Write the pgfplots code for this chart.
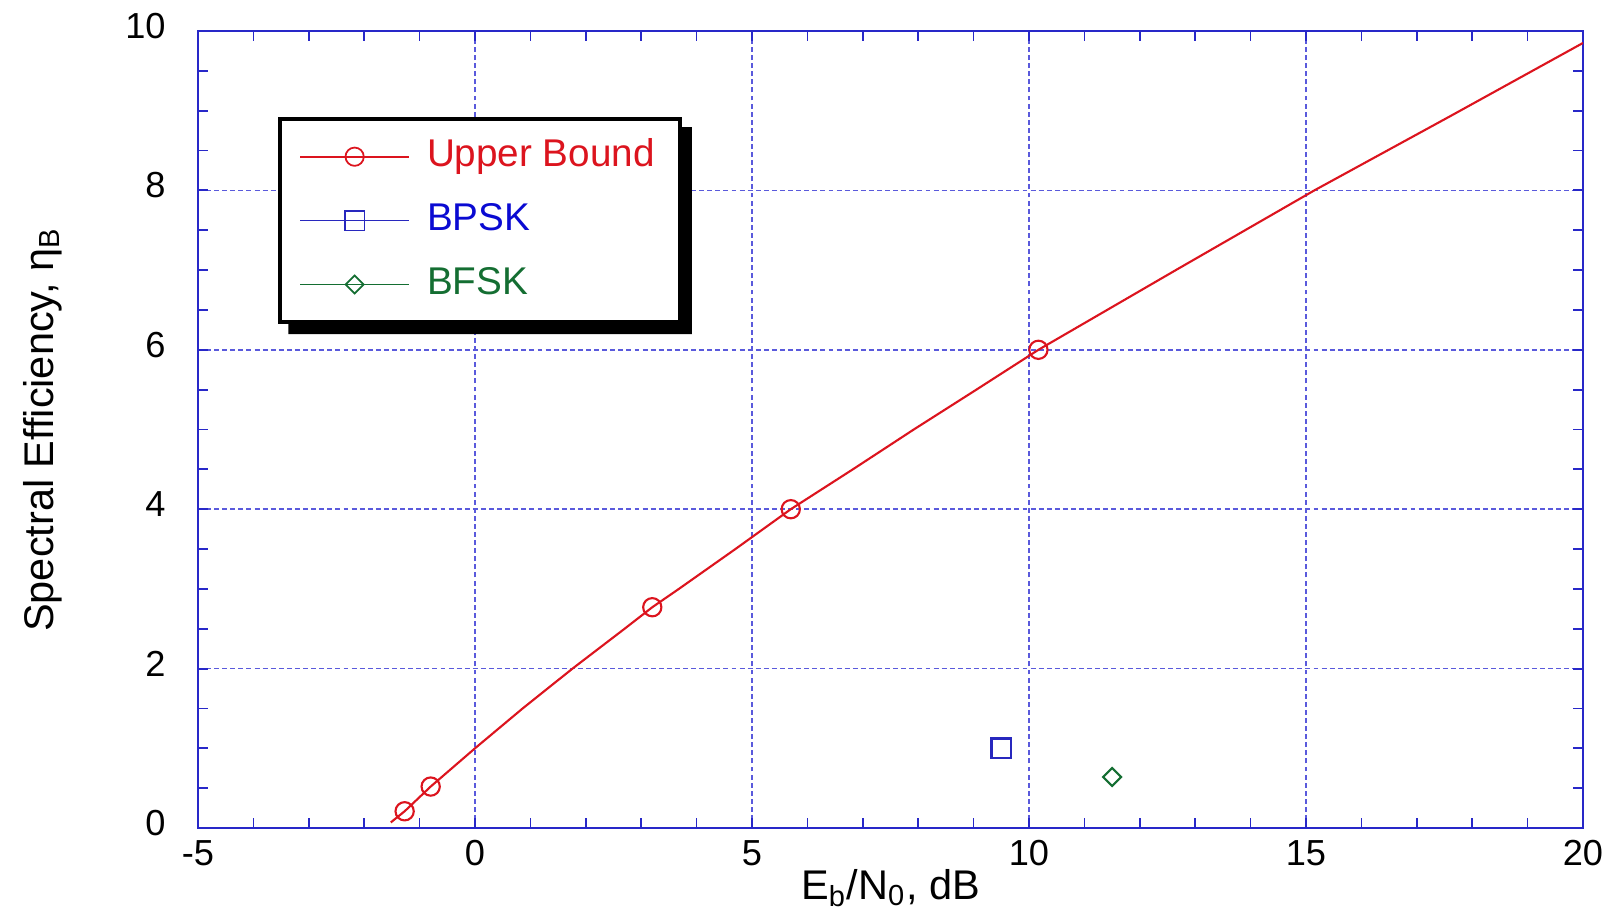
\documentclass[border=0pt]{standalone}
\usepackage{fontspec}
\setmainfont{Liberation Sans}
\usepackage{pgfplots}
\pgfplotsset{compat=1.18}
\definecolor{fr}{RGB}{40,40,200}
\definecolor{gr}{RGB}{90,90,220}
\definecolor{ured}{RGB}{220,20,30}
\definecolor{ublue}{RGB}{40,40,190}
\definecolor{tblue}{RGB}{10,10,210}
\definecolor{ugreen}{RGB}{20,110,50}
\begin{document}
\begin{tikzpicture}
\begin{axis}[name=ax, scale only axis, width=13.85cm, height=7.97cm,
  xmin=-5, xmax=20, ymin=0, ymax=10,
  xtick={-5,0,5,10,15,20}, ytick={0,2,4,6,8,10},
  minor x tick num=4, minor y tick num=3,
  tick align=inside,
  axis line style={fr, line width=0.8pt},
  major tick style={fr, line width=0.6pt}, minor tick style={fr, line width=0.5pt},
  major tick length=0.1cm, minor tick length=0.1cm,
  grid=major, major grid style={gr, line width=0.5pt, dash pattern=on 1.4pt off 0.9pt},
  /pgf/number format/assume math mode=true,
  tick label style={font=\fontsize{10.3}{12}\selectfont},
  yticklabel style={xshift=-0.2cm, yshift=0.05cm},
  label style={font=\fontsize{11.8}{14}\selectfont},
  xlabel={E\textsubscript{b}/N\textsubscript{0}, dB},
  ylabel={Spectral Efficiency, η\textsubscript{B}},
  xlabel style={at={(axis description cs:0.5,0)}, anchor=center, yshift=-0.6cm},
  ylabel style={at={(axis description cs:-0.112,0.5)}, anchor=center},
  legend cell align=left,
  legend style={name=leg, at={(axis description cs:0.058,0.892)}, anchor=north west,
    draw=black, line width=1.1pt, fill=white,
    font=\fontsize{11}{13}\selectfont,
    inner xsep=0.19cm, inner ysep=0.15cm, row sep=0.185cm, column sep=0.11cm,
    nodes={inner sep=0.06cm, text height=0.75em, text depth=0.2em}},
  legend image code/.code={\draw[line width=0.5pt, #1, mark repeat=2, mark phase=2] plot coordinates {(0cm,0cm) (0.545cm,0cm) (1.09cm,0cm)};},
]
\addlegendimage{ured, line width=0.5pt, mark=o, mark size=2.6pt, mark options={line width=0.5pt}}
\addlegendentry{\textcolor{ured}{Upper Bound}}
\addplot[ured, line width=0.6pt, no marks, forget plot] coordinates {
(-1.52,0.07) (-1.27,0.21) (-0.80,0.52) (0,1) (0.86,1.5) (1.76,2) (2.70,2.5) (3.20,2.77)
(3.68,3) (4.70,3.5) (5.70,4) (6.82,4.5) (7.92,5) (9.05,5.5) (10.17,6) (12.65,7)
(15.15,8) (17.6,8.93) (20,9.85)};
\addplot[ured, line width=0.6pt, only marks, mark=o, mark size=2.6pt, forget plot] coordinates {
(-1.27,0.21) (-0.80,0.52) (3.20,2.77) (5.70,4) (10.17,6)};
\addplot[ublue, line width=0.6pt, mark=square, mark size=2.8pt] coordinates {(9.5,1.0)};
\addlegendentry{\textcolor{tblue}{BPSK}}
\addplot[ugreen, line width=0.6pt, mark=square, mark size=1.8pt, mark options={rotate=45}] coordinates {(11.5,0.64)};
\addlegendentry{\textcolor{ugreen}{BFSK}}
\end{axis}
\fill[black] ([xshift=0.1cm]leg.south west) -- ([xshift=0.1cm,yshift=-0.1cm]leg.south west)
  -- ([xshift=0.1cm,yshift=-0.1cm]leg.south east) -- ([xshift=0.1cm,yshift=-0.1cm]leg.north east)
  -- ([yshift=-0.1cm]leg.north east) -- (leg.south east) -- cycle;
\pgfresetboundingbox
\path ([xshift=-1.98cm,yshift=-0.89cm]ax.south west) rectangle ([xshift=0.33cm,yshift=0.31cm]ax.north east);
\end{tikzpicture}
\end{document}
